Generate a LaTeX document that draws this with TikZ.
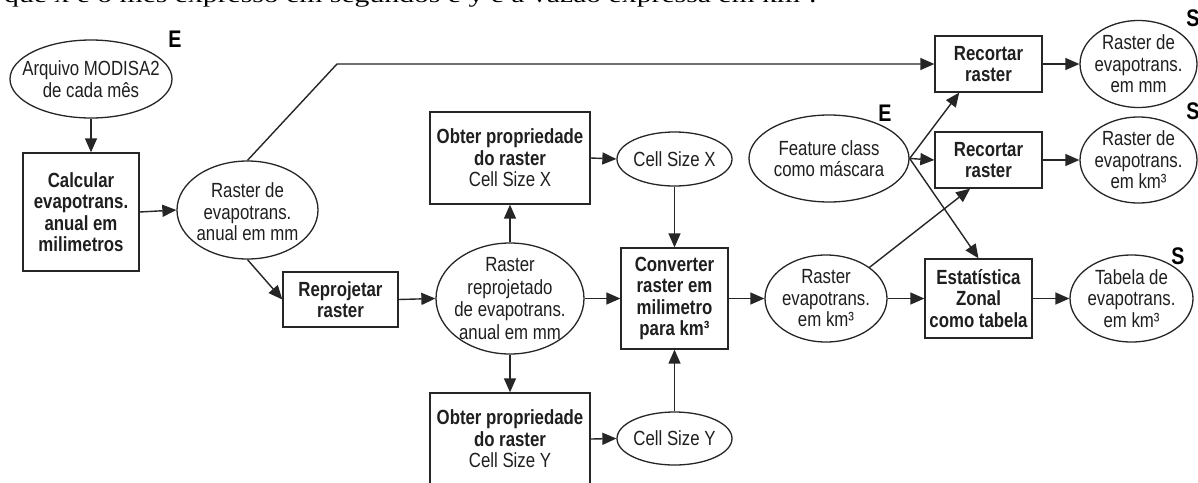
\documentclass[tikz,border=0pt]{standalone}
\usepackage{fontspec}
\setmainfont{Liberation Sans}[FakeStretch=0.82]
\newfontfamily\bodyserif{Liberation Serif}[FakeStretch=1.35]
\usetikzlibrary{arrows.meta,shapes.geometric,calc}
\tikzset{
  base/.style={font=\fontsize{20.5}{21.5}\selectfont, text=black!88, align=center, inner sep=0pt},
  box/.style={base, draw=black!85, rectangle, line width=1.3pt, font=\fontsize{20.5}{21.5}\selectfont\bfseries},
  ell/.style={draw=black!85, ellipse, line width=1.3pt, inner sep=0pt},
  lbl/.style={base},
  tag/.style={font=\fontsize{24}{24}\selectfont\bfseries, text=black, inner sep=0pt},
  arr/.style={draw=black!85, line width=1.4pt, -{Triangle[length=14pt,width=12pt]}},
}
\begin{document}
\begin{tikzpicture}[x=1pt, y={(0pt,-1pt)}]
\useasboundingbox (0,0) rectangle (1198,482);
\fill[white] (0,0) rectangle (1198,482);
\clip (0,0) rectangle (1198,482);

% cut-off line of running text
\node[anchor=base west, font=\bodyserif\fontsize{22}{22}\selectfont, inner sep=0pt] (topline) at (4,2.5)
  {que x é o mês expresso em segundos e y é a vazão expressa em km³.};

% inputs / left part
\node[ell, minimum width=162pt, minimum height=78pt] (arq) at (91,79) {};
\node[lbl] (arq-t) at (arq) {Arquivo MODISA2\\de cada mês};
\node[tag] (e1) at (175,39) {E};

\node[box, minimum width=116pt, minimum height=118pt] (calc) at (81,212) {Calcular\\evapotrans.\\anual em\\milimetros};

\node[ell, minimum width=141pt, minimum height=98pt] (rde) at (247.5,210) {};
\node[lbl] (rde-t) at ($(rde)+(0,2)$) {Raster de\\evapotrans.\\anual em mm};

\node[box, minimum width=115pt, minimum height=55pt] (rep) at (340.5,299.5) {Reprojetar\\raster};

\node[ell, minimum width=148pt, minimum height=111pt] (rr) at (510,298.5) {};
\node[lbl, font=\fontsize{20.5}{22.5}\selectfont] (rr-t) at (rr) {Raster\\reprojetado\\de evapotrans.\\anual em mm};

\node[box, minimum width=160pt, minimum height=92pt] (obx) at (510,158) {Obter propriedade\\do raster\\{\mdseries Cell Size X}};
\node[ell, minimum width=115pt, minimum height=54pt] (csx) at (674.5,159) {};
\node[lbl] (csx-t) at (csx) {Cell Size X};

\node[box, minimum width=160pt, minimum height=92pt] (oby) at (510,439) {Obter propriedade\\do raster\\{\mdseries Cell Size Y}};
\node[ell, minimum width=115pt, minimum height=53pt] (csy) at (674.5,438.5) {};
\node[lbl] (csy-t) at (csy) {Cell Size Y};

\node[box, minimum width=107pt, minimum height=101pt] (conv) at (674.5,298.5) {Converter\\raster em\\milimetro\\para km³};

\node[ell, minimum width=122pt, minimum height=87pt] (rkm) at (826,298.5) {};
\node[lbl] (rkm-t) at (rkm) {Raster\\evapotrans.\\em km³};

\node[box, minimum width=107pt, minimum height=79pt] (est) at (978.5,298.5) {Estatística\\Zonal\\como tabela};

\node[ell, minimum width=123pt, minimum height=87pt] (tab) at (1131.5,298.5) {};
\node[lbl] (tab-t) at (tab) {Tabela de\\evapotrans.\\em km³};
\node[tag] (s3) at (1178,256) {S};

% right part
\node[ell, minimum width=160pt, minimum height=87pt] (feat) at (829,158.5) {};
\node[lbl] (feat-t) at (feat) {Feature class\\como máscara};
\node[tag] (e2) at (885,113) {E};

\node[box, minimum width=107pt, minimum height=56pt] (rec1) at (988.5,64) {Recortar\\raster};
\node[box, minimum width=107pt, minimum height=56pt] (rec2) at (988.5,160) {Recortar\\raster};

\node[ell, minimum width=117pt, minimum height=87pt] (rmm) at (1138.5,64) {};
\node[lbl] (rmm-t) at (rmm) {Raster de\\evapotrans.\\em mm};
\node[tag] (s1) at (1193,18) {S};

\node[ell, minimum width=117pt, minimum height=86pt] (rkm3) at (1138.5,160) {};
\node[lbl] (rkm3-t) at (rkm3) {Raster de\\evapotrans.\\em km³};
\node[tag] (s2) at (1193,111) {S};

\coordinate (bend) at (337,64);

% connectors
\draw[arr] (arq.south) -- (arq.south |- calc.north);
\draw[arr] (calc.east) -- (rde.west);
\draw[arr] (rde.north) -- (bend) -- (bend -| rec1.west);
\draw[arr] (rde.south) -- (rep.west);
\draw[arr] (rep.east) -- (rr.west);
\draw[arr] (rr.north) -- (obx.south);
\draw[arr] (obx.east) -- (csx.west);
\draw[arr] (csx.south) -- (conv.north);
\draw[arr] (rr.east) -- (conv.west);
\draw[arr] (rr.south) -- (oby.north);
\draw[arr] (oby.east) -- (csy.west);
\draw[arr] (csy.north) -- (conv.south);
\draw[arr] (conv.east) -- (rkm.west);
\draw[arr] (rkm.east) -- (est.west);
\draw[arr] (est.east) -- (tab.west);
\draw[arr] (rec1.east) -- (rmm.west);
\draw[arr] (rec2.east) -- (rkm3.west);
\draw[arr] (feat.east) -- (rec2.west);
\draw[arr] (feat.east) -- ($(rec1.south west)!0.23!(rec1.south east)$);
\draw[arr] (feat.east) -- (est.north);
\draw[arr] (rkm.north east) -- ($(rec2.south west)!0.33!(rec2.south east)$);
\end{tikzpicture}
\end{document}
